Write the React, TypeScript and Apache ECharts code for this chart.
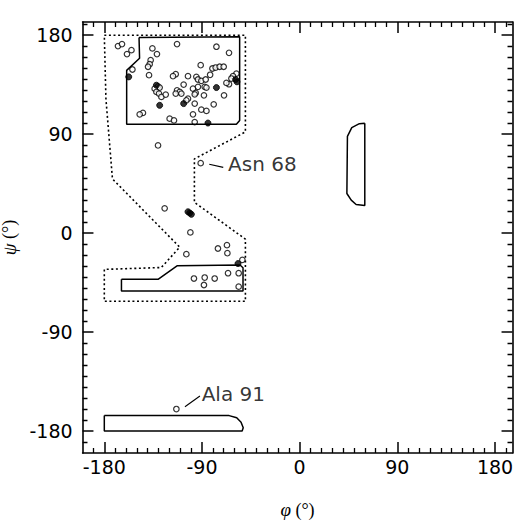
import React, { useEffect, useRef } from 'react';
import * as echarts from 'echarts';

const majorTicks = [-180, -90, 0, 90, 180];
const minorTicks = [
  -190, -170, -160, -150, -140, -130, -120, -110, -100, -80, -70, -60, -50, -40, -30, -20, -10,
  10, 20, 30, 40, 50, 60, 70, 80, 100, 110, 120, 130, 140, 150, 160, 170, 190
];

const openPoints: [number, number][] = [
  [-167.4, 170.1], [-163.7, 171.9], [-159.1, 162.8], [-155.0, 166.4], [-113.0, 171.9],
  [-76.7, 169.5], [-135.7, 168.0], [-131.5, 162.8], [-65.1, 164.0], [-137.3, 157.3],
  [-138.2, 153.6], [-139.7, 151.3], [-154.1, 148.8], [-138.8, 143.6], [-91.2, 152.7],
  [-80.4, 149.7], [-77.4, 150.6], [-73.7, 151.3], [-70.0, 151.3], [-58.3, 145.1],
  [-61.4, 142.7], [-62.9, 140.6], [-114.2, 144.5], [-116.7, 142.7], [-102.9, 142.7],
  [-95.2, 142.1], [-93.7, 139.7], [-90.6, 138.5], [-86.6, 139.7], [-106.9, 135.1],
  [-65.1, 135.4], [-67.5, 136.6], [-130.5, 133.5], [-129.0, 132.4], [-133.6, 131.4],
  [-132.0, 128.4], [-129.6, 126.9], [-127.4, 123.9], [-123.4, 126.0], [-113.0, 129.9],
  [-110.5, 128.4], [-114.2, 126.9], [-109.0, 126.9], [-98.3, 131.4], [-93.7, 133.0],
  [-87.5, 133.0], [-85.9, 132.4], [-102.9, 122.3], [-104.4, 120.8], [-95.8, 127.5],
  [-96.7, 126.2], [-88.2, 125.3], [-69.7, 125.3], [-96.7, 117.8], [-79.2, 117.1],
  [-144.4, 109.3], [-147.4, 108.0], [-90.6, 112.3], [-85.9, 111.1], [-98.3, 108.0],
  [-119.8, 104.1], [-115.8, 102.5], [-96.7, 101.0], [-130.5, 79.7], [-82.5, 144.0],
  [-124.4, 22.5], [-100.7, 0.6], [-104.4, -19.2], [-75.3, -14.0], [-67.0, -11.0],
  [-66.6, -18.3], [-52.8, -24.4], [-97.4, -41.3], [-87.5, -40.4], [-78.3, -41.3],
  [-88.2, -47.2], [-66.0, -36.5], [-56.2, -36.5], [-56.2, -48.7],
  [-91.2, 63.6], [-113.6, -160.0]
];

const filledPoints: [number, number][] = [
  [-157.5, 142.1], [-59.0, 139.7], [-57.8, 137.6], [-132.0, 134.5], [-76.7, 132.4],
  [-106.9, 117.8], [-129.0, 116.2], [-84.5, 100.1], [-102.9, 19.4], [-101.3, 18.3],
  [-99.8, 17.1], [-56.8, -27.7]
];

const allowedRegion: [number, number][] = [
  [-180, 180], [-50, 180], [-50, 92], [-97, 67.5], [-97, 28], [-50, -5.5], [-50, -62],
  [-180, -62], [-180, -33], [-127.5, -31.3], [-110.5, -12.8], [-172.5, 49.3],
  [-178.5, 122], [-180, 180]
];

const betaCore: [number, number][] = [
  [-148, 178], [-55.3, 178.5], [-55.3, 102.5], [-58.3, 99], [-159.4, 99], [-159.4, 148],
  [-147.5, 159], [-148, 178]
];

const alphaCore: [number, number][] = [
  [-164.2, -42], [-130.5, -42], [-113, -29.8], [-55, -29], [-52.2, -31.5], [-52.2, -52.7],
  [-164.2, -52.7], [-164.2, -42]
];

const lowerCore: [number, number][] = [
  [-180, -166], [-65, -166], [-58, -168], [-54, -172], [-52, -177], [-53, -180],
  [-180, -180], [-180, -166]
];

const leftHelixCore: [number, number][] = [
  [60, 100], [55, 99.5], [48, 96], [44, 88], [43.5, 36], [47.5, 30], [52, 26], [60, 25],
  [60, 100]
];

const annotationNames = ['Asn 68', 'Ala 91'];
const annotationTextAt: [number, number][] = [[-66, 62.6], [-90.3, -146.3]];
const annotationLeaders: [number, number][][] = [
  [[-83.3, 62.6], [-70.4, 59.8]],
  [[-105.7, -157.9], [-91.9, -148.2]]
];

const X_MIN = -200, X_MAX = 196, Y_MIN = -200, Y_MAX = 192;
const MAJOR_LEN = 10; // degrees
const MINOR_LEN = 4.5; // degrees

function App() {
  const ref = useRef<HTMLDivElement>(null);
  useEffect(() => {
    if (!ref.current) return;
    const chart = echarts.init(ref.current, null, { renderer: 'svg' });
    const black = '#000';
    const sans = 'DejaVu Sans, Liberation Sans, sans-serif';
    const serif = 'Liberation Serif, DejaVu Serif, serif';
    const labelFont = { fontFamily: sans, fontSize: 19, color: black };
    const nameStyle = {
      fontFamily: serif, fontSize: 18, color: black,
      rich: { i: { fontStyle: 'italic', fontFamily: serif, fontSize: 19, color: black } }
    };

    const mkX = (pos: 'top' | 'bottom', labels: boolean, name?: boolean) => ({
      type: 'value', position: pos, min: X_MIN, max: X_MAX,
      axisLine: { show: true, onZero: false, lineStyle: { color: black, width: 1.6 } },
      axisTick: { show: false },
      axisLabel: labels ? { show: true, customValues: majorTicks, margin: 4, ...labelFont } : { show: false },
      splitLine: { show: false },
      ...(name ? { name: '{i|φ} (°)', nameLocation: 'middle', nameGap: 47, nameTextStyle: nameStyle } : {})
    });
    const mkY = (pos: 'left' | 'right', labels: boolean, name?: boolean) => ({
      type: 'value', position: pos, min: Y_MIN, max: Y_MAX,
      axisLine: { show: true, onZero: false, lineStyle: { color: black, width: 1.6 } },
      axisTick: { show: false },
      axisLabel: labels ? { show: true, customValues: majorTicks, margin: 10, ...labelFont } : { show: false },
      splitLine: { show: false },
      ...(name ? { name: '{i|ψ} (°)', nameLocation: 'middle', nameGap: 55, nameTextStyle: nameStyle } : {})
    });

    const region = (data: [number, number][], dashed: boolean) => ({
      type: 'line', data, symbol: 'none', silent: true,
      lineStyle: { color: black, width: dashed ? 1.6 : 1.5, type: dashed ? [2, 2.6] : 'solid' }
    });

    const tickSegs = (values: number[], len: number) => [
      ...values.filter((v) => v > X_MIN && v < X_MAX).flatMap((v) => [
        { coords: [[v, Y_MIN], [v, Y_MIN + len]] },
        { coords: [[v, Y_MAX], [v, Y_MAX - len]] }
      ]),
      ...values.filter((v) => v > Y_MIN && v < Y_MAX).flatMap((v) => [
        { coords: [[X_MIN, v], [X_MIN + len, v]] },
        { coords: [[X_MAX, v], [X_MAX - len, v]] }
      ])
    ];

    chart.setOption({
      animation: false,
      grid: { left: 82.6, right: 2.6, top: 22, bottom: 67, containLabel: false, outerBoundsMode: 'none' },
      xAxis: [mkX('bottom', true, true), mkX('top', false)],
      yAxis: [mkY('left', true, true), mkY('right', false)],
      series: [
        region(allowedRegion, true),
        region(betaCore, false),
        region(alphaCore, false),
        region(lowerCore, false),
        region(leftHelixCore, false),
        {
          type: 'lines', coordinateSystem: 'cartesian2d', data: tickSegs(majorTicks, MAJOR_LEN), silent: true,
          lineStyle: { color: black, width: 1.5, opacity: 1 }
        },
        {
          type: 'lines', coordinateSystem: 'cartesian2d', data: tickSegs(minorTicks, MINOR_LEN), silent: true,
          lineStyle: { color: black, width: 1.3, opacity: 1 }
        },
        {
          type: 'lines', coordinateSystem: 'cartesian2d', silent: true,
          data: annotationLeaders.map((seg) => ({ coords: seg })),
          lineStyle: { color: black, width: 1.1, opacity: 1 }
        },
        {
          type: 'scatter', data: openPoints, symbol: 'circle', symbolSize: 5.5,
          itemStyle: { color: '#fff', borderColor: black, borderWidth: 1.2 }
        },
        {
          type: 'scatter', data: filledPoints, symbol: 'circle', symbolSize: 6,
          itemStyle: { color: black, borderColor: black, borderWidth: 1 }
        },
        {
          type: 'scatter', symbolSize: 0,
          data: annotationNames.map((n, i) => ({ name: n, value: annotationTextAt[i] })),
          label: {
            show: true, position: 'right', distance: 0, formatter: '{b}',
            fontFamily: sans, fontSize: 20, color: black
          }
        }
      ]
    });
    return () => chart.dispose();
  }, []);
  return <div ref={ref} style={{ position: 'fixed', left: 0, top: 0, width: 515, height: 520, background: '#fff' }} />;
}

export default App;
